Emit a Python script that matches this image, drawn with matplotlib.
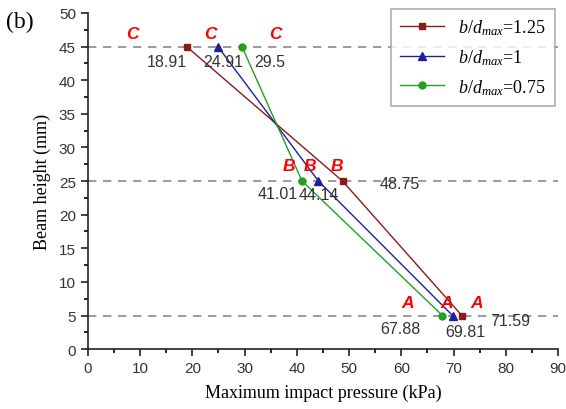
import matplotlib.pyplot as plt
from matplotlib.ticker import MultipleLocator

# --- Data ---
heights = [5, 25, 45]
p_125 = [71.59, 48.75, 18.91]
p_100 = [69.81, 44.14, 24.91]
p_075 = [67.88, 41.01, 29.5]

serif = "Liberation Serif"
sans = "Liberation Sans"

plt.rcParams["mathtext.fontset"] = "custom"
plt.rcParams["mathtext.it"] = "Liberation Serif:italic"
plt.rcParams["mathtext.rm"] = "Liberation Serif"

fig = plt.figure(figsize=(5.66, 4.10), dpi=100)
ax = fig.add_axes([0.155, 0.146, 0.831, 0.82])

# reference dashed lines at the three measuring points
for h in heights:
    ax.axhline(h, color="#8a8a8a", linestyle=(0, (5, 4)), linewidth=1.2, zorder=1)

ax.plot(p_125, heights, color="#8b1a1a", marker="s", markersize=5, linewidth=1,
        label=r"$b/d_{max}$=1.25", zorder=3)
ax.plot(p_100, heights, color="#1f1f9a", marker="^", markersize=6, linewidth=1,
        label=r"$b/d_{max}$=1", zorder=3)
ax.plot(p_075, heights, color="#22a022", marker="o", markersize=5, linewidth=1,
        label=r"$b/d_{max}$=0.75", zorder=3)

# point labels
red_kw = dict(color="red", fontsize=12.5, fontweight="bold", style="italic",
              family=sans, ha="center", va="center")
for x in [8.6, 23.4, 36.0]:
    ax.text(x, 46.9, "C", **red_kw)
for x in [38.5, 42.5, 47.7]:
    ax.text(x, 27.3, "B", **red_kw)
for x in [61.3, 68.6, 74.5]:
    ax.text(x, 7.0, "A", **red_kw)

num_kw = dict(color="#333333", fontsize=11.5, family=sans, ha="center", va="center")
ax.text(15.2, 42.8, "18.91", **num_kw)
ax.text(25.9, 42.8, "24.91", **num_kw)
ax.text(34.9, 42.8, "29.5", **num_kw)
ax.text(36.3, 23.2, "41.01", **num_kw)
ax.text(44.2, 23.0, "44.14", **num_kw)
ax.text(59.8, 24.7, "48.75", **num_kw)
ax.text(59.8, 3.0, "67.88", **num_kw)
ax.text(72.2, 2.6, "69.81", **num_kw)
ax.text(80.8, 4.2, "71.59", **num_kw)

ax.set_xlim(0, 90)
ax.set_ylim(0, 50)
ax.xaxis.set_major_locator(MultipleLocator(10))
ax.xaxis.set_minor_locator(MultipleLocator(5))
ax.yaxis.set_major_locator(MultipleLocator(5))
ax.yaxis.set_minor_locator(MultipleLocator(2.5))
ax.tick_params(which="major", direction="out", length=5, width=1.2, labelsize=11,
               colors="#222222")
ax.tick_params(which="minor", direction="out", length=3, width=1.2)
for lab in ax.get_xticklabels() + ax.get_yticklabels():
    lab.set_family(sans)
    lab.set_color("#333333")

ax.spines["top"].set_visible(False)
ax.spines["right"].set_visible(False)
for s in ["left", "bottom"]:
    ax.spines[s].set_linewidth(1.2)
    ax.spines[s].set_color("#222222")

ax.set_xlabel("Maximum impact pressure (kPa)", family=serif, fontsize=13, labelpad=6)
ax.set_ylabel("Beam height (mm)", family=serif, fontsize=13, labelpad=6)

leg = ax.legend(loc="upper right", bbox_to_anchor=(1.012, 1.04), prop={"family": serif, "size": 13},
                frameon=True, fancybox=False, edgecolor="#999999", handlelength=2.4,
                borderpad=0.5, labelspacing=0.55)
leg.get_frame().set_linewidth(1.2)

fig.text(0.01, 0.945, "(b)", family=serif, fontsize=17, ha="left", va="center")

fig.savefig("out.png", dpi=100)
